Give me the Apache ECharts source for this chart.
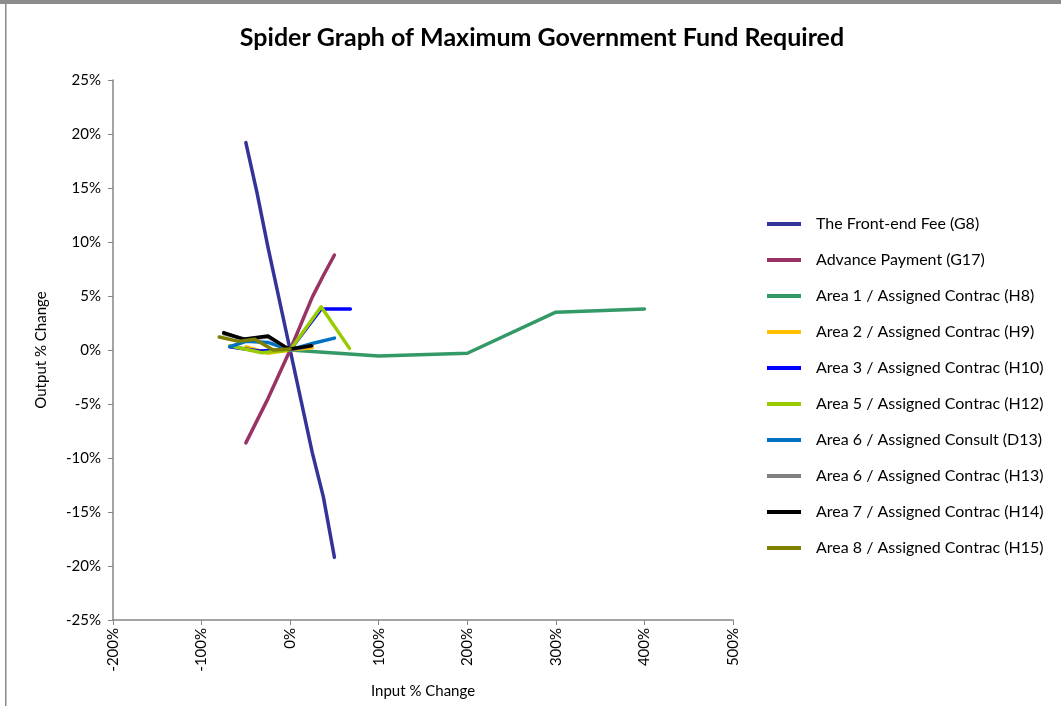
<!DOCTYPE html>
<html>
<head>
<meta charset="utf-8">
<script src="https://cdn.jsdelivr.net/npm/echarts@6/dist/echarts.min.js"></script>
<style>
    html, body { margin: 0; padding: 0; background: #fff; }
    #chart { width: 1061px; height: 706px; }
</style>
</head>
<body>
<div id="chart"></div>
<script>
// series names, as in the legend
var seriesNames = [
    'The Front-end Fee (G8)',
    'Advance Payment (G17)',
    'Area 1 / Assigned Contrac (H8)',
    'Area 2 / Assigned Contrac (H9)',
    'Area 3 / Assigned Contrac (H10)',
    'Area 5 / Assigned Contrac (H12)',
    'Area 6 / Assigned Consult (D13)',
    'Area 6 / Assigned Contrac (H13)',
    'Area 7 / Assigned Contrac (H14)',
    'Area 8 / Assigned Contrac (H15)'
];
var seriesColors = ['#333399', '#993366', '#339966', '#ffc000', '#0000ff',
    '#99cc00', '#0070c0', '#808080', '#000000', '#808000'];

// [input % change, output % change]
var frontEndFee = [[-50, 19.2], [-37.5, 14.6], [-25, 9.5], [0, 0], [25, -9.5], [37.5, -13.6], [50, -19.2]];
var advancePayment = [[-50, -8.6], [-25, -4.5], [0, 0], [25, 4.9], [37.5, 6.9], [50, 8.8]];
var area1H8 = [[0, 0], [100, -0.55], [200, -0.3], [300, 3.5], [400, 3.8]];
var area2H9 = [[-50, 0.3], [-25, -0.3], [0, 0], [25, 0.2]];
var area3H10 = [[-68, 0.3], [-35, -0.1], [0, 0], [35, 3.8], [68, 3.8]];
var area5H12 = [[-68, 0.4], [-32, -0.25], [0, 0], [35, 4.0], [67, 0.15]];
var area6D13 = [[-68, 0.3], [-50, 0.8], [-25, 0.7], [0, 0], [25, 0.6], [50, 1.1]];
var area6H13 = [[-75, 1.5], [-50, 1.0], [-25, 1.2], [0, 0], [25, 0.4]];
var area7H14 = [[-75, 1.6], [-53, 1.0], [-25, 1.3], [-6, 0.3], [0, 0.1], [24, 0.4]];
var area8H15 = [[-80, 1.2], [-58, 0.8], [-40, 1.0], [-19, 0], [0, 0.1]];
var seriesData = [frontEndFee, advancePayment, area1H8, area2H9, area3H10,
    area5H12, area6D13, area6H13, area7H14, area8H15];

var xTicks = {min: -200, max: 500, interval: 100};
var yTicks = {min: -25, max: 25, interval: 5};

var fontName = 'Lato';
var chart = echarts.init(document.getElementById('chart'));

var series = [];
for (var i = 0; i < seriesNames.length; i++) {
    series.push({
        name: seriesNames[i],
        type: 'line',
        data: seriesData[i],
        symbol: 'none',
        color: seriesColors[i],
        lineStyle: {width: 3.5, color: seriesColors[i], cap: 'round', join: 'round'},
        animation: false
    });
}

var option = {
    backgroundColor: '#fff',
    title: {
        text: 'Spider Graph of Maximum Government Fund Required',
        left: 537,
        top: 20,
        textAlign: 'center',
        textStyle: {fontFamily: fontName, fontSize: 25, fontWeight: 'bold', color: '#000'}
    },
    legend: {
        orient: 'vertical',
        left: 762,
        top: 211,
        itemWidth: 34,
        itemHeight: 14,
        itemGap: 20,
        icon: 'path://M0,5 L34,5 L34,9 L0,9 Z',
        data: seriesNames,
        textStyle: {fontFamily: fontName, fontSize: 16, color: '#000', padding: [0, 0, 0, 10]}
    },
    grid: {left: 113, right: 328, top: 80, bottom: 86, containLabel: false},
    xAxis: {
        type: 'value',
        min: xTicks.min,
        max: xTicks.max,
        interval: xTicks.interval,
        name: 'Input % Change',
        nameLocation: 'middle',
        nameGap: 64,
        nameTextStyle: {fontFamily: fontName, fontSize: 15, color: '#000'},
        axisLine: {onZero: false, lineStyle: {color: '#868686', width: 1.5}},
        axisTick: {show: true, length: 5, lineStyle: {color: '#868686'}},
        splitLine: {show: false},
        axisLabel: {
            rotate: 90,
            fontFamily: fontName,
            fontSize: 15,
            color: '#000',
            margin: 8,
            formatter: '{value}%'
        }
    },
    yAxis: {
        type: 'value',
        min: yTicks.min,
        max: yTicks.max,
        interval: yTicks.interval,
        name: 'Output % Change',
        nameLocation: 'middle',
        nameGap: 64,
        nameRotate: 90,
        nameTextStyle: {fontFamily: fontName, fontSize: 15, color: '#000'},
        axisLine: {show: true, onZero: false, lineStyle: {color: '#868686', width: 1.5}},
        axisTick: {show: true, length: 5, lineStyle: {color: '#868686'}},
        splitLine: {show: false},
        axisLabel: {fontFamily: fontName, fontSize: 15, color: '#000', margin: 12, formatter: '{value}%'}
    },
    graphic: [
        {type: 'rect', shape: {x: 0, y: 0, width: 1061, height: 4}, style: {fill: '#8c8c8c'}, silent: true},
        {type: 'rect', shape: {x: 5, y: 0, width: 1.5, height: 706}, style: {fill: '#8c8c8c'}, silent: true}
    ],
    series: series
};
chart.setOption(option);
</script>
</body>
</html>
